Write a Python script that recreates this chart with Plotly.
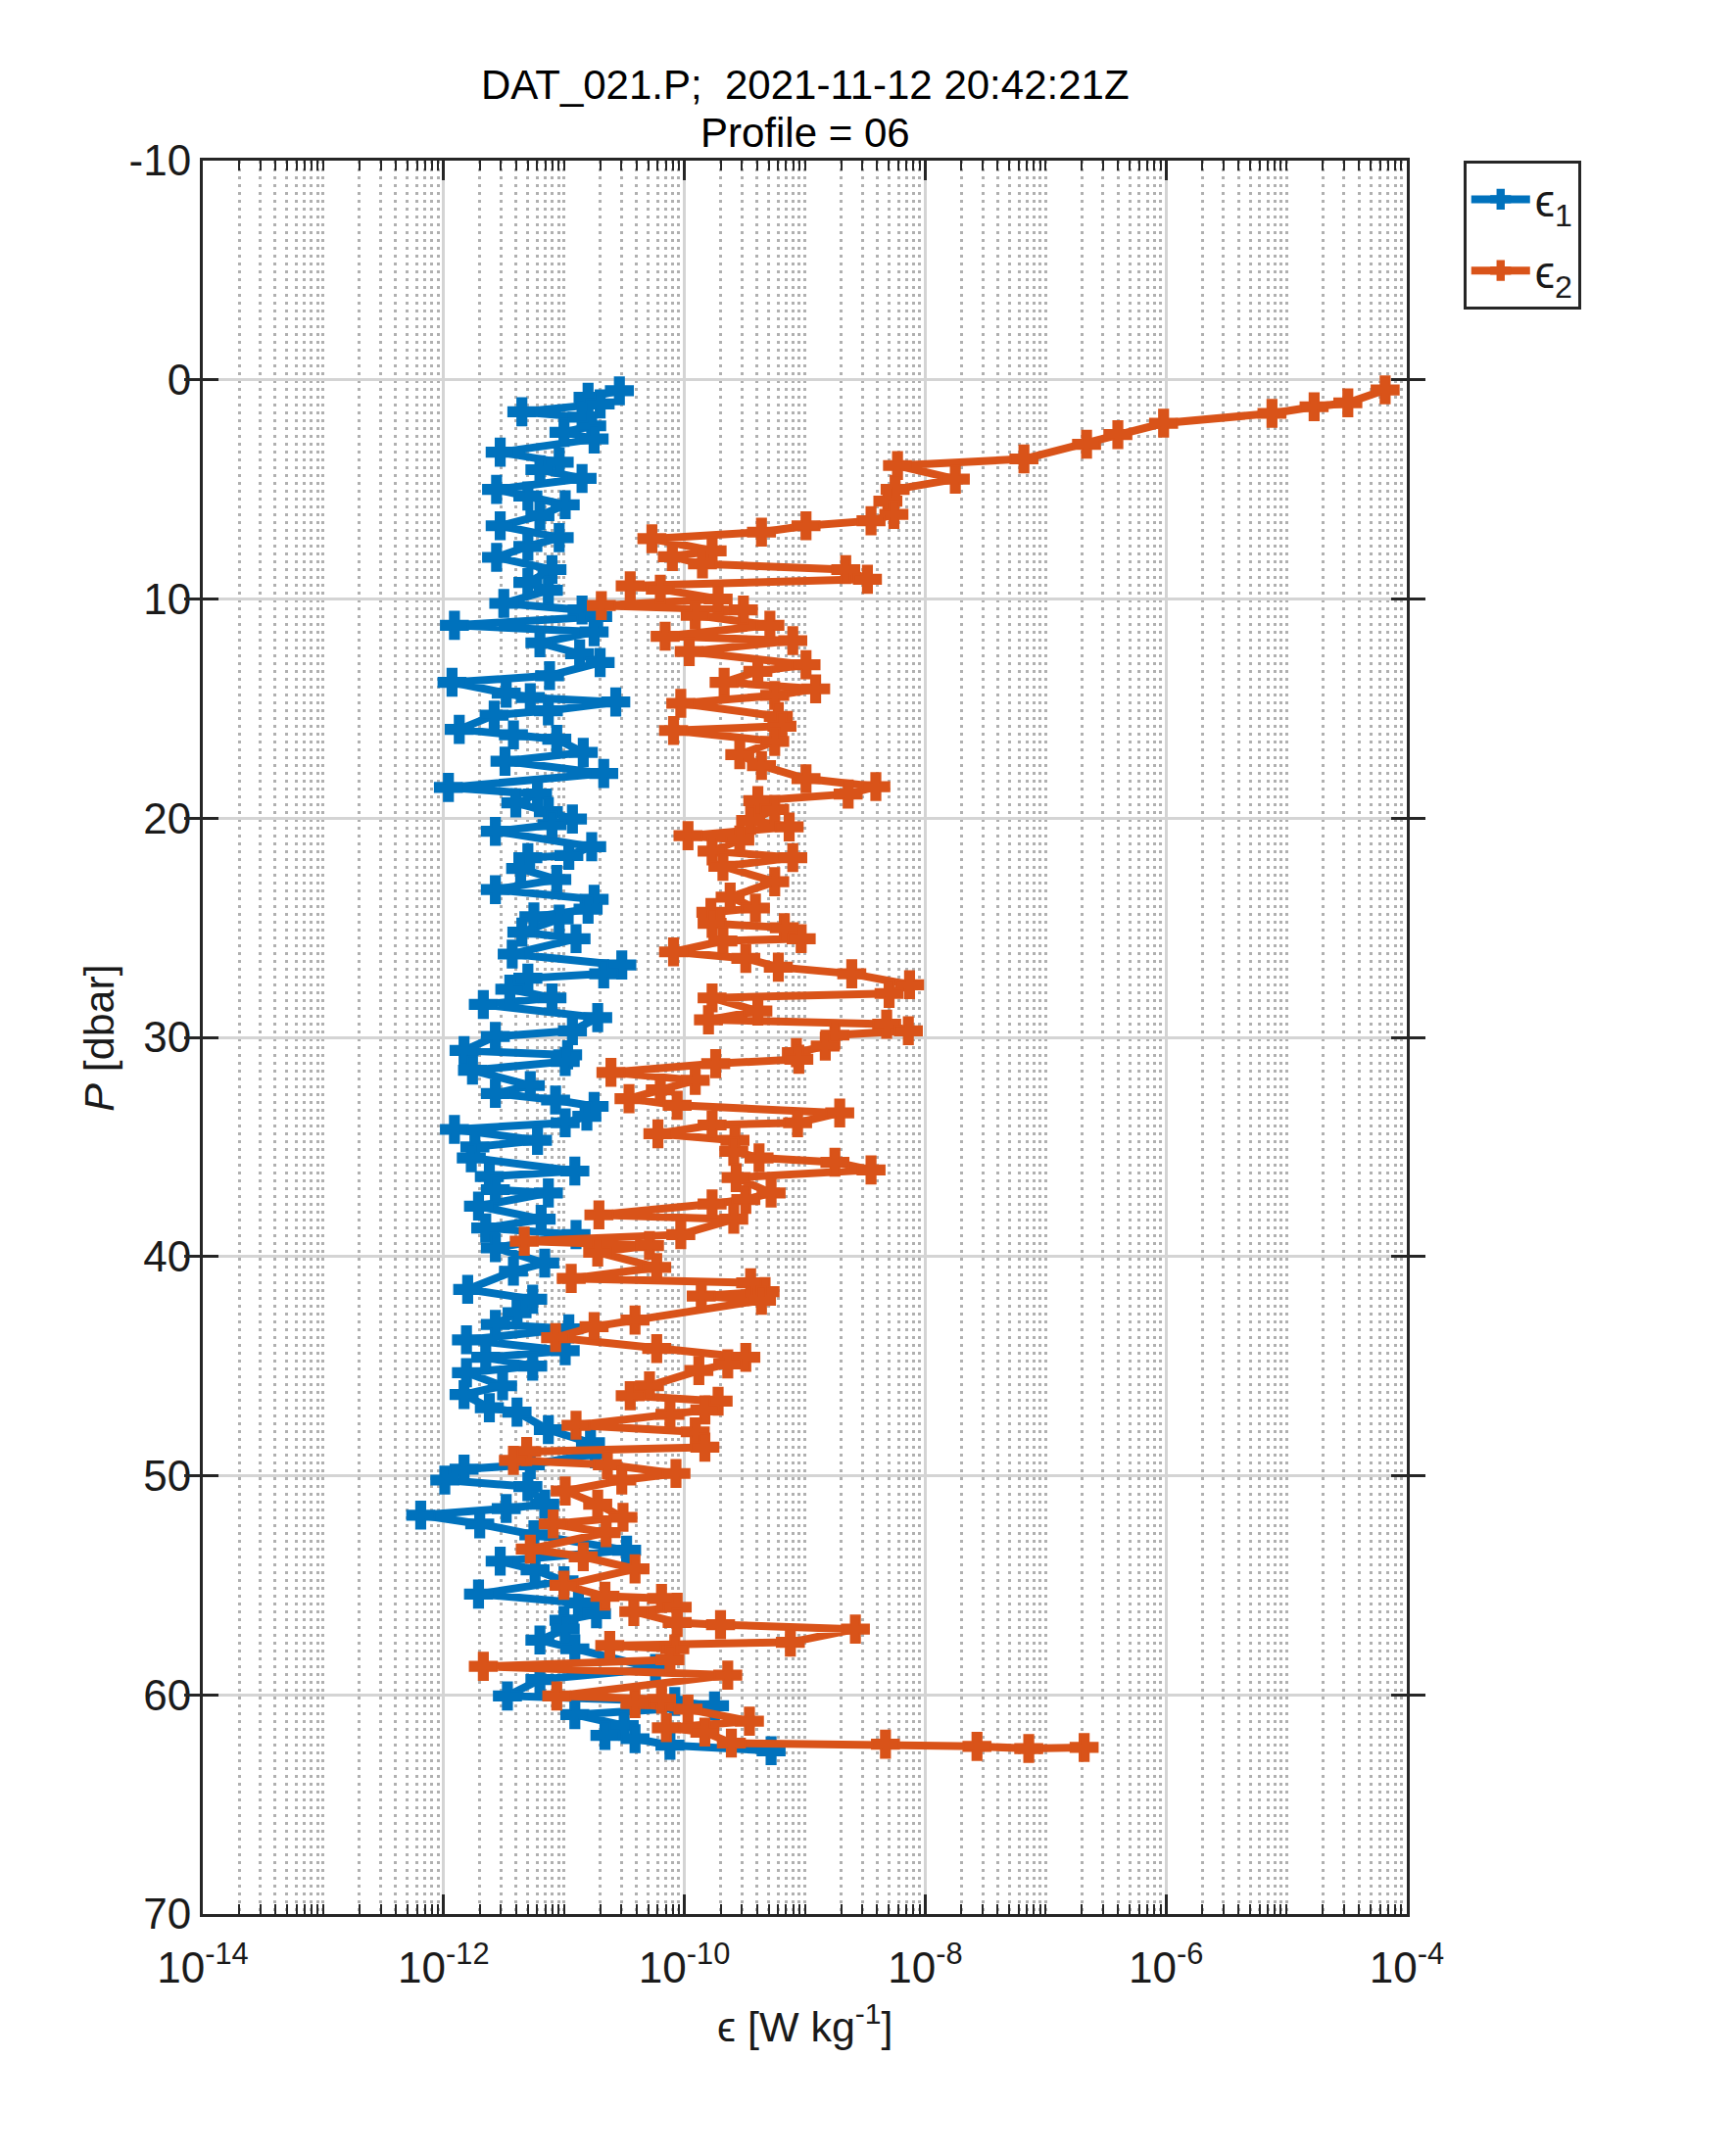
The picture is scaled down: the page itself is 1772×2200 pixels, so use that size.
import numpy as np
import plotly.graph_objects as go

# pressure [dbar] and log10(epsilon [W/kg])
p1 = [0.5, 0.8, 1.1, 1.46, 1.7, 2.1, 2.4, 2.7, 3.3, 3.76,
      4.1, 4.5, 5.0, 5.3, 5.7, 6.2, 6.66, 7.2, 7.6, 8.1,
      8.66, 9.25, 9.6, 10.2, 10.5, 10.8, 11.2, 11.5, 12.0, 12.5,
      12.9, 13.5, 13.8, 14.3, 14.5, 14.7, 15.1, 15.3, 15.95, 16.2,
      16.4, 17.0, 17.4, 17.96, 18.6, 18.9, 19.3, 19.7, 20.04, 20.3,
      20.6, 21.3, 21.7, 21.8, 22.3, 22.8, 23.26, 23.7, 24.15, 24.5,
      24.6, 25.2, 25.5, 26.2, 26.7, 27.1, 27.3, 27.8, 28.2, 28.5,
      29.1, 29.7, 29.96, 30.6, 30.8, 31.1, 31.5, 32.2, 32.56, 32.86,
      33.15, 33.6, 33.9, 34.2, 34.7, 35.0, 35.5, 36.1, 36.35, 36.95,
      37.1, 37.7, 38.3, 38.7, 39.0, 39.6, 40.3, 40.67, 41.5, 41.95,
      42.56, 43.1, 43.3, 43.8, 44.3, 44.6, 45.0, 45.3, 45.9, 46.3,
      46.9, 47.1, 47.9, 48.5, 49.0, 49.5, 49.7, 50.2, 50.5, 51.3,
      51.5, 51.8, 52.2, 52.7, 53.4, 53.9, 54.3, 54.8, 55.4, 55.8,
      56.3, 56.6, 57.0, 57.5, 57.9, 58.8, 59.3, 60.05, 60.3, 60.5,
      60.9, 61.4, 61.85, 62.0, 62.3, 62.55]
log_eps1 = [-10.54, -10.80, -10.70, -11.35, -10.85, -10.77, -11.00, -10.75, -11.53, -11.04,
            -11.20, -10.85, -11.56, -11.30, -10.99, -11.20, -11.53, -11.04, -11.30, -11.56,
            -11.10, -11.30, -11.13, -11.50, -10.85, -10.72, -11.91, -10.75, -11.20, -10.87,
            -10.70, -11.12, -11.93, -11.48, -11.28, -10.57, -11.13, -11.58, -11.87, -11.42,
            -11.06, -10.84, -11.49, -10.67, -11.96, -11.22, -11.40, -11.13, -10.93, -11.10,
            -11.57, -10.77, -10.96, -11.30, -11.36, -11.06, -11.57, -10.75, -10.80, -11.25,
            -11.04, -11.35, -10.90, -11.43, -10.52, -10.67, -11.30, -11.45, -11.10, -11.67,
            -10.72, -10.93, -11.57, -11.83, -10.97, -10.99, -11.76, -11.28, -11.57, -11.07,
            -10.75, -10.81, -10.99, -11.91, -11.22, -11.74, -11.77, -10.91, -11.62, -11.57,
            -11.13, -11.71, -11.19, -11.65, -10.90, -11.57, -11.16, -11.42, -11.80, -11.26,
            -11.39, -11.57, -10.96, -11.81, -10.99, -11.65, -11.26, -11.81, -11.51, -11.83,
            -11.62, -11.39, -11.13, -10.78, -10.74, -11.28, -11.83, -11.99, -11.30, -11.16,
            -11.48, -12.19, -11.70, -11.25, -10.48, -11.53, -11.24, -11.00, -11.71, -10.88,
            -10.73, -11.00, -10.99, -11.20, -10.91, -10.24, -11.20, -11.47, -10.08, -9.75,
            -10.91, -10.50, -10.66, -10.41, -10.12, -9.28]

p2 = [0.46, 1.05, 1.23, 1.53, 1.98, 2.50, 2.94, 3.61, 3.91, 4.53,
      5.0, 5.54, 6.14, 6.43, 6.66, 6.95, 7.25, 7.8, 8.07, 8.4,
      8.66, 9.1, 9.4, 9.55, 10.0, 10.3, 10.5, 10.74, 11.2, 11.7,
      11.9, 12.4, 13.0, 13.3, 13.8, 14.1, 14.4, 14.76, 15.36, 15.8,
      16.0, 16.5, 17.1, 17.6, 18.2, 18.56, 18.9, 19.2, 19.6, 20.1,
      20.4, 20.8, 21.0, 21.5, 21.8, 22.2, 22.9, 23.6, 24.1, 24.3,
      24.8, 25.0, 25.5, 25.6, 26.1, 26.4, 26.8, 27.1, 27.6, 28.0,
      28.2, 28.8, 29.2, 29.4, 29.7, 29.9, 30.4, 30.7, 31.0, 31.2,
      31.6, 31.96, 32.4, 32.8, 33.1, 33.45, 33.9, 34.0, 34.4, 34.7,
      35.2, 35.5, 35.7, 36.05, 36.4, 37.1, 37.4, 37.6, 38.1, 38.3,
      39.0, 39.3, 39.5, 39.8, 40.5, 41.0, 41.2, 41.6, 41.8, 42.0,
      42.9, 43.2, 43.7, 44.2, 44.6, 44.9, 45.2, 45.9, 46.35, 46.6,
      47.0, 47.2, 47.7, 48.0, 48.7, 48.9, 49.3, 49.5, 49.9, 50.2,
      50.7, 51.3, 51.9, 52.2, 52.6, 53.35, 53.7, 54.25, 55.0, 55.5,
      55.6, 56.0, 56.2, 56.7, 56.8, 57.0, 57.6, 57.75, 57.9, 58.4,
      58.7, 59.1, 60.05, 60.2, 60.4, 60.65, 61.2, 61.5, 61.7, 62.2,
      62.25, 62.35, 62.45, 62.4]
log_eps2 = [-4.18, -4.49, -4.77, -5.12, -6.02, -6.40, -6.66, -7.18, -8.23, -7.75,
            -8.25, -8.31, -8.26, -8.45, -8.99, -9.36, -10.27, -9.77, -10.10, -9.85,
            -8.66, -8.48, -10.45, -10.20, -9.72, -10.69, -9.51, -9.91, -9.29, -10.16,
            -9.10, -9.96, -8.99, -9.39, -9.67, -8.91, -9.25, -10.03, -9.22, -9.19,
            -10.09, -9.25, -9.54, -9.36, -8.99, -8.41, -8.64, -9.39, -9.25, -9.45,
            -9.13, -9.97, -9.54, -9.77, -9.10, -9.68, -9.25, -9.62, -9.41, -9.78,
            -9.77, -9.17, -9.03, -9.68, -10.09, -9.49, -9.22, -8.61, -8.13, -8.30,
            -9.77, -9.39, -9.80, -8.32, -8.14, -8.75, -8.83, -9.07, -9.05, -9.74,
            -10.61, -9.91, -10.20, -10.46, -10.06, -8.71, -9.06, -9.77, -10.22, -9.58,
            -9.59, -9.38, -8.75, -8.45, -9.57, -9.28, -9.49, -9.77, -10.71, -9.59,
            -10.03, -11.33, -10.29, -10.72, -10.23, -10.94, -9.45, -9.33, -9.86, -9.36,
            -10.41, -10.75, -11.07, -10.23, -9.49, -9.64, -9.88, -10.29, -10.45, -9.72,
            -9.83, -10.12, -10.90, -9.91, -9.83, -11.31, -11.42, -10.64, -10.07, -10.52,
            -10.99, -10.72, -10.51, -11.09, -10.65, -11.28, -10.84, -10.41, -11.00, -10.66,
            -10.19, -10.06, -10.42, -10.06, -9.70, -8.58, -9.12, -10.62, -10.08, -10.12,
            -11.67, -9.64, -11.06, -10.19, -10.41, -9.97, -9.46, -10.15, -9.83, -9.61,
            -8.33, -7.57, -7.14, -6.68]

decades = [-14, -12, -10, -8, -6, -4]
x_labels = ["10<sup>%d</sup>" % d for d in decades]
p_ticks = [-10, 0, 10, 20, 30, 40, 50, 60, 70]

title_lines = ["DAT_021.P;  2021-11-12 20:42:21Z", "Profile = 06"]

BLUE = "#0072BD"
ORANGE = "#D95319"
AXC = "#262626"
FONT = "Liberation Sans, Arial, Helvetica, sans-serif"

# minor log positions (2..9 per decade plus the odd decades)
minor_vals = []
for k in range(-14, -4):
    if k % 2 != 0:
        minor_vals.append(10.0 ** k)
    for m in range(2, 10):
        minor_vals.append(m * 10.0 ** k)

fig = go.Figure()
# eps1 sits on the minor-tick axis, eps2 on the labelled overlay axis
for p, le, name, col, xa in [(p1, log_eps1, "ϵ<sub>1</sub>", BLUE, "x"),
                             (p2, log_eps2, "ϵ<sub>2</sub>", ORANGE, "x2")]:
    fig.add_trace(go.Scatter(
        x=10.0 ** np.array(le), y=p, mode="lines+markers", name=name,
        xaxis=xa, legendgroup=name,
        line=dict(color=col, width=8),
        marker=dict(symbol="cross", size=23, color=col,
                    line=dict(width=2, color=col)),
    ))

common = dict(showline=True, linecolor=AXC, linewidth=3, mirror="allticks",
              zeroline=False, tickcolor=AXC)

fig.update_layout(
    width=1756, height=2184,
    margin=dict(l=199, r=328, t=156, b=238),
    paper_bgcolor="white", plot_bgcolor="white",
    font=dict(family=FONT, size=43, color="#1a1a1a"),
    showlegend=True,
    legend=dict(x=1.047, y=1.0, xanchor="left", yanchor="top",
                bordercolor=AXC, borderwidth=3, bgcolor="white",
                font=dict(size=46), itemwidth=60, tracegroupgap=10),
    xaxis=dict(type="log", range=[-14, -4], tickmode="array",
               tickvals=minor_vals, ticktext=[""] * len(minor_vals),
               ticks="inside", ticklen=10, tickwidth=2,
               showgrid=True, gridcolor="#b0b0b0", griddash="3px,5px",
               gridwidth=3, **common),
    xaxis2=dict(type="log", range=[-14, -4], overlaying="x", anchor="y",
                side="bottom", tickmode="array",
                tickvals=[10.0 ** d for d in decades], ticktext=x_labels,
                ticks="inside", ticklen=20, tickwidth=3,
                showgrid=True, gridcolor="#d4d4d4", gridwidth=3,
                tickfont=dict(size=44), ticklabelstandoff=14, **common),
    yaxis=dict(range=[70, -10], tickmode="array", tickvals=p_ticks,
               ticktext=[str(t) for t in p_ticks],
               ticks="inside", ticklen=16, tickwidth=3,
               showgrid=True, gridcolor="#d4d4d4", gridwidth=3,
               tickfont=dict(size=44), **common),
)

fig.add_annotation(text=title_lines[0], xref="paper", yref="paper",
                   x=0.5, y=1.0431, showarrow=False, yanchor="middle",
                   font=dict(size=42, color="black"))
fig.add_annotation(text=title_lines[1], xref="paper", yref="paper",
                   x=0.5, y=1.0157, showarrow=False, yanchor="middle",
                   font=dict(size=42, color="black"))
fig.add_annotation(text="<i>P</i> [dbar]", xref="paper", yref="paper",
                   x=-0.0864, y=0.5, textangle=-90, showarrow=False,
                   xanchor="center", yanchor="middle", font=dict(size=43))
fig.add_annotation(text="ϵ [W kg<sup>-1</sup>]", xref="paper", yref="paper",
                   x=0.5, y=-0.0625, showarrow=False,
                   xanchor="center", yanchor="middle", font=dict(size=43))

fig.write_html("out.html")
